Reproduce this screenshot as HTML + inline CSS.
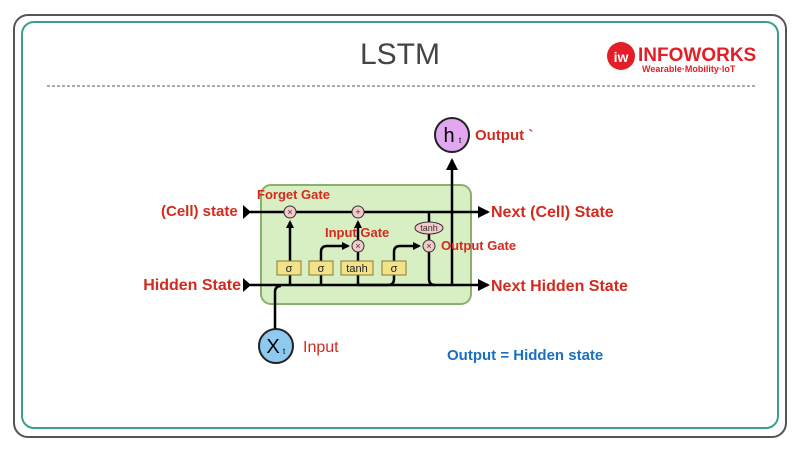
<!DOCTYPE html>
<html><head><meta charset="utf-8"><style>
body{margin:0;width:800px;height:450px;background:#fff;overflow:hidden;font-family:"Liberation Sans",sans-serif}
</style></head><body>
<svg width="800" height="450" viewBox="0 0 800 450" xmlns="http://www.w3.org/2000/svg" font-family="Liberation Sans, sans-serif">
<defs><marker id="a" markerWidth="8" markerHeight="8" refX="6" refY="4" orient="auto" markerUnits="userSpaceOnUse"><path d="M0,0 L8,4 L0,8 z" fill="#000"/></marker>
<marker id="b" markerWidth="12" markerHeight="12" refX="10" refY="6" orient="auto" markerUnits="userSpaceOnUse"><path d="M0,0 L12,6 L0,12 z" fill="#000"/></marker></defs>
<rect x="14" y="15" width="772" height="422" rx="14" fill="#fff" stroke="#555" stroke-width="2"/>
<rect x="22" y="22" width="756" height="406" rx="12" fill="#fff" stroke="#3a9e8c" stroke-width="2"/>
<text x="400" y="64" font-size="30" text-anchor="middle" fill="#444">LSTM</text>
<line x1="47" y1="86" x2="755" y2="86" stroke="#555" stroke-dasharray="3,2"/>
<circle cx="621" cy="56" r="14" fill="#e41e26"/>
<text x="621" y="62" font-size="14" font-weight="bold" fill="#fff" text-anchor="middle">iw</text>
<text x="638" y="61" font-size="19" font-weight="bold" fill="#e41e26">INFOWORKS</text>
<text x="642" y="72" font-size="9" font-weight="bold" fill="#e41e26">Wearable·Mobility·IoT</text>
<rect x="261" y="185" width="210" height="119" rx="10" fill="#d8efc4" stroke="#8ab070" stroke-width="2"/>
<g stroke="#000" stroke-width="2.5" fill="none">
<line x1="250" y1="212" x2="488" y2="212" marker-end="url(#b)"/>
<line x1="250" y1="285" x2="488" y2="285" marker-end="url(#b)"/>
<line x1="290" y1="261" x2="290" y2="222" marker-end="url(#a)"/>
<line x1="290" y1="285" x2="290" y2="275"/>
<line x1="321" y1="285" x2="321" y2="275"/>
<path d="M321,261 V252 Q321,246 327,246 H348" marker-end="url(#a)"/>
<line x1="358" y1="285" x2="358" y2="275"/>
<line x1="358" y1="261" x2="358" y2="252"/>
<line x1="358" y1="240" x2="358" y2="222" marker-end="url(#a)"/>
<path d="M394,261 V252 Q394,246 400,246 H419" marker-end="url(#a)"/>
<path d="M358,285 H388 Q394,285 394,279 V275"/>
<line x1="429" y1="212" x2="429" y2="223"/>
<line x1="429" y1="233" x2="429" y2="240"/>
<path d="M429,252 V279 Q429,285 435,285"/>
<line x1="452" y1="285" x2="452" y2="160" marker-end="url(#b)"/>
<path d="M275,329 V292 Q275,286 281,286"/>
</g>
<path d="M243,205 L251,212 L243,219z" fill="#000"/>
<path d="M243,278 L251,285 L243,292z" fill="#000"/>
<g stroke="#333" stroke-width="1" fill="#f5c9c9">
<circle cx="290" cy="212" r="6"/><circle cx="358" cy="212" r="6"/>
<circle cx="358" cy="246" r="6"/><circle cx="429" cy="246" r="6"/>
<ellipse cx="429" cy="228" rx="14" ry="6"/>
</g>
<g font-size="9" text-anchor="middle" fill="#333">
<text x="290" y="215">×</text><text x="358" y="215">+</text><text x="358" y="249">×</text><text x="429" y="249">×</text><text x="429" y="231">tanh</text>
</g>
<g fill="#f2e28a" stroke="#8a7a30">
<rect x="277" y="261" width="24" height="14"/><rect x="309" y="261" width="24" height="14"/>
<rect x="341" y="261" width="32" height="14"/><rect x="382" y="261" width="24" height="14"/>
</g>
<g font-size="11" text-anchor="middle" fill="#222">
<text x="289" y="272">σ</text><text x="321" y="272">σ</text><text x="357" y="272">tanh</text><text x="394" y="272">σ</text>
</g>
<circle cx="452" cy="135" r="17" fill="#e1a8ef" stroke="#222" stroke-width="2"/>
<text x="449" y="142" font-size="20" text-anchor="middle">h</text><text x="459" y="143" font-size="8">t</text>
<circle cx="276" cy="346" r="17" fill="#8ec9ef" stroke="#222" stroke-width="2"/>
<text x="273" y="353" font-size="20" text-anchor="middle">X</text><text x="283" y="354" font-size="8">t</text>
<g fill="#d42a1e" font-weight="bold">
<text x="475" y="140" font-size="15">Output `</text>
<text x="257" y="199" font-size="13">Forget Gate</text>
<text x="161" y="216" font-size="15">(Cell) state</text>
<text x="325" y="237" font-size="13">Input Gate</text>
<text x="441" y="250" font-size="13">Output Gate</text>
<text x="241" y="290" font-size="16" text-anchor="end">Hidden State</text>
<text x="491" y="217" font-size="16">Next (Cell) State</text>
<text x="491" y="291" font-size="16">Next Hidden State</text>
<text x="303" y="352" font-size="16" font-weight="normal">Input</text>
</g>
<text x="447" y="360" font-size="15" font-weight="bold" fill="#1a6fc0">Output = Hidden state</text>
</svg>
</body></html>
